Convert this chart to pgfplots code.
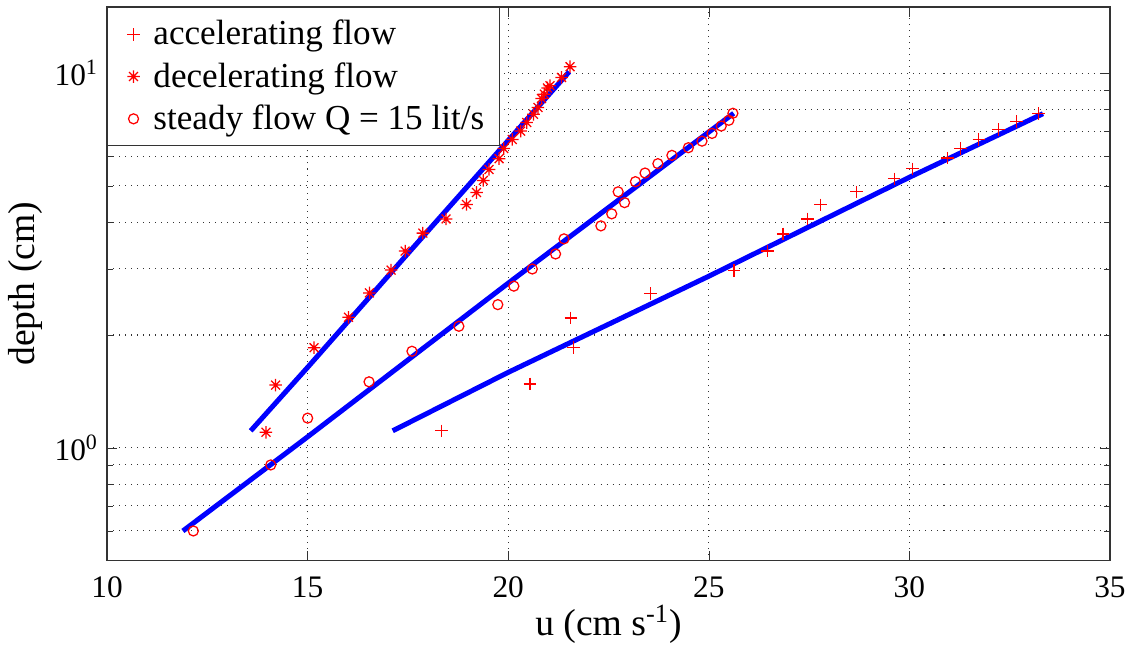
\documentclass[border=0pt]{standalone}
\usepackage{fontspec}
\setmainfont{Liberation Serif}
\usepackage{pgfplots}
\pgfplotsset{compat=1.18}

% MATLAB-like 8-arm asterisk
\pgfdeclareplotmark{ast8}{%
  \pgfpathmoveto{\pgfqpoint{-\pgfplotmarksize}{0pt}}%
  \pgfpathlineto{\pgfqpoint{\pgfplotmarksize}{0pt}}%
  \pgfpathmoveto{\pgfqpoint{0pt}{-\pgfplotmarksize}}%
  \pgfpathlineto{\pgfqpoint{0pt}{\pgfplotmarksize}}%
  \pgfpathmoveto{\pgfqpoint{-0.707\pgfplotmarksize}{-0.707\pgfplotmarksize}}%
  \pgfpathlineto{\pgfqpoint{0.707\pgfplotmarksize}{0.707\pgfplotmarksize}}%
  \pgfpathmoveto{\pgfqpoint{-0.707\pgfplotmarksize}{0.707\pgfplotmarksize}}%
  \pgfpathlineto{\pgfqpoint{0.707\pgfplotmarksize}{-0.707\pgfplotmarksize}}%
  \pgfusepathqstroke}

\definecolor{mred}{RGB}{255,0,0}
\definecolor{mblue}{RGB}{0,0,255}

\begin{document}
\begin{tikzpicture}
\begin{axis}[
  scale only axis, width=400pt, height=220.8pt,
  xmin=10, xmax=35, ymode=log, ymin=0.5, ymax=15,
  xtick={10,15,...,35},
  ytick={1,10}, yticklabels={10\textsuperscript{0},10\textsuperscript{1}},
  minor ytick={0.5,0.6,0.7,0.8,0.9,2,3,4,5,6,7,8,9},
  xmajorgrids, ymajorgrids, yminorgrids,
  grid style={dotted, black!80},
  minor grid style={dotted, black!80},
  tick align=inside, major tick length=4pt, minor tick length=2.2pt,
  axis line style={black!80, line width=0.6pt},
  tick style={black!80},
  tick label style={font=\fontsize{12.5}{13}\selectfont},
  xticklabel style={/pgf/number format/assume math mode=true, yshift=-3pt},
  label style={font=\fontsize{15}{17}\selectfont},
  xlabel={u (cm s\textsuperscript{-1})},
  xlabel style={yshift=4pt},
  ylabel={depth (cm)},
  ylabel shift=-2pt,
  legend style={at={(0,1)}, anchor=north west, draw=black!80,
    font=\fontsize{14}{16}\selectfont, row sep=1.5pt,
    inner xsep=4pt, inner ysep=3pt},
  legend cell align=left,
  legend image code/.code={%
    \path (0pt,0pt) (11.8pt,0pt);
    \draw[#1] plot coordinates {(6.1pt,0pt)};},
]
\addplot[only marks, mark=+, mark size=2.5pt, mred, line width=0.5pt] coordinates {
(18.33,1.11) (20.54,1.48) (21.63,1.85) (21.56,2.22) (23.54,2.58) (25.63,2.97)
(26.46,3.35) (26.85,3.72) (27.46,4.08) (27.79,4.45) (28.68,4.82) (29.62,5.22)
(30.08,5.55) (30.95,5.93) (31.27,6.30) (31.73,6.65) (32.22,7.07) (32.67,7.42)
(33.22,7.79)};
\addlegendentry{accelerating flow}
\addplot[only marks, mark=ast8, mark size=2.5pt, mred, line width=0.5pt] coordinates {
(13.96,1.10) (14.20,1.47) (15.16,1.85) (16.02,2.23) (16.54,2.59) (17.08,2.98)
(17.43,3.35) (17.87,3.74) (18.45,4.08) (18.96,4.46) (19.21,4.80) (19.38,5.17)
(19.52,5.53) (19.77,5.91) (19.89,6.29) (20.10,6.65) (20.31,7.00) (20.46,7.38)
(20.63,7.76) (20.74,8.09) (20.83,8.55) (20.90,8.78) (20.98,9.12) (21.04,9.25)
(21.33,9.73) (21.54,10.4)};
\addlegendentry{decelerating flow}
\addplot[only marks, mark=o, mark size=2pt, mred, line width=0.5pt] coordinates {
(12.15,0.60) (14.08,0.90) (15.00,1.20) (16.53,1.50) (17.60,1.81) (18.77,2.11)
(19.74,2.41) (20.14,2.70) (20.60,3.00) (21.18,3.29) (21.39,3.61) (22.31,3.91)
(22.58,4.21) (22.90,4.51) (22.74,4.82) (23.17,5.13) (23.41,5.41) (23.73,5.73)
(24.08,6.03) (24.49,6.32) (24.83,6.58) (25.08,6.90) (25.31,7.22) (25.50,7.48)
(25.60,7.81)};
\addlegendentry{steady flow Q = 15 lit/s}
% fitted lines
\addplot[mblue, line width=2pt, forget plot] coordinates {
(17.12,1.11) (20,1.59) (25,2.87) (30,5.27) (33.33,7.79)};
\addplot[mblue, line width=2pt, forget plot] coordinates {
(13.58,1.11) (15,1.64) (17.5,3.30) (20,6.61) (21.52,10.08)};
\addplot[mblue, line width=2pt, forget plot] coordinates {
(11.89,0.60) (15,1.07) (20,2.75) (25.62,7.81)};
\end{axis}
\path (current axis.north) ++(0,2.8pt);
\end{tikzpicture}
\end{document}
